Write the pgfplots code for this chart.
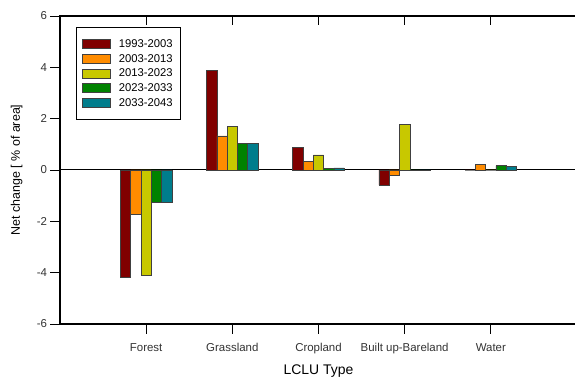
\documentclass[border=0pt]{standalone}
\usepackage{pgfplots}
\pgfplotsset{compat=1.18}
\usepackage{fontspec}
\setmainfont{Liberation Sans}
\definecolor{c1}{RGB}{128,0,0}
\definecolor{c2}{RGB}{255,140,0}
\definecolor{c3}{RGB}{200,200,0}
\definecolor{c4}{RGB}{0,130,0}
\definecolor{c5}{RGB}{0,125,140}
\begin{document}
\begin{tikzpicture}
\begin{axis}[
  at={(0,0)}, anchor=south west,
  scale only axis, width=517bp, height=308bp,
  xmin=0, xmax=6, ymin=-6, ymax=6,
  ybar=0pt, bar width=10.3bp,
  xtick={1,2,3,4,5},
  xticklabels={Forest,Grassland,Cropland,Built up-Bareland,Water},
  xtick pos=left,
  ytick={-6,-4,-2,0,2,4,6},
  yticklabels={-6,-4,-2,0,2,4,6},
  ytick pos=left,
  tick align=outside,
  major tick length=9.5bp,
  tick style={black, line width=0.9bp},
  axis line style={black, line width=1.2bp},
  tick label style={font=\fontsize{11.5}{13}\selectfont, text=black!80},
  xticklabel style={yshift=-6bp, text height=8.5bp, text depth=2.5bp},
  xlabel={LCLU Type},
  xlabel style={font=\fontsize{14}{16}\selectfont, yshift=-4bp},
  ylabel={Net change [ \% of area]},
  ylabel style={font=\fontsize{12.5}{14}\selectfont, yshift=-2bp},
  extra y ticks={0},
  extra y tick labels={},
  extra y tick style={grid=major, major grid style={black, line width=1bp}, major tick length=0pt},
  every axis plot/.append style={draw=black!75, line width=0.6bp},
  legend style={at={(15.7bp,297bp)}, anchor=north west, draw=black, line width=1.2bp,
    font=\fontsize{11.3}{12}\selectfont, row sep=1.3bp, inner xsep=6bp, inner ysep=10bp},
  legend cell align=left,
  legend image code/.code={\draw[#1, line width=0.6bp] (0bp,-4.5bp) rectangle (28bp,4.5bp); \path (34bp,0bp);},
]
\addplot[fill=c1] coordinates {(1,-4.19) (2,3.88) (3,0.88) (4,-0.59) (5,0)};
\addplot[fill=c2] coordinates {(1,-1.71) (2,1.33) (3,0.33) (4,-0.22) (5,0.21)};
\addplot[fill=c3] coordinates {(1,-4.10) (2,1.70) (3,0.59) (4,1.78) (5,0)};
\addplot[fill=c4] coordinates {(1,-1.27) (2,1.05) (3,0.06) (4,-0.03) (5,0.17)};
\addplot[fill=c5] coordinates {(1,-1.25) (2,1.05) (3,0.08) (4,-0.03) (5,0.14)};
\legend{1993-2003\hspace{11bp},2003-2013\hspace{11bp},2013-2023\hspace{11bp},2023-2033\hspace{11bp},2033-2043\hspace{11bp}}
\end{axis}
\begin{axis}[
  at={(0,0)}, anchor=south west,
  scale only axis, width=517bp, height=308bp,
  xmin=0, xmax=6, ymin=-6, ymax=6,
  xtick={1,2,3,4,5}, xticklabels={},
  xtick pos=right, tick align=inside,
  major tick length=9bp,
  tick style={black, line width=0.9bp},
  ytick=\empty,
  axis line style={draw=none},
]
\end{axis}
\pgfresetboundingbox
\path (-60bp,-54bp) rectangle (515bp,324bp);
\end{tikzpicture}
\end{document}
